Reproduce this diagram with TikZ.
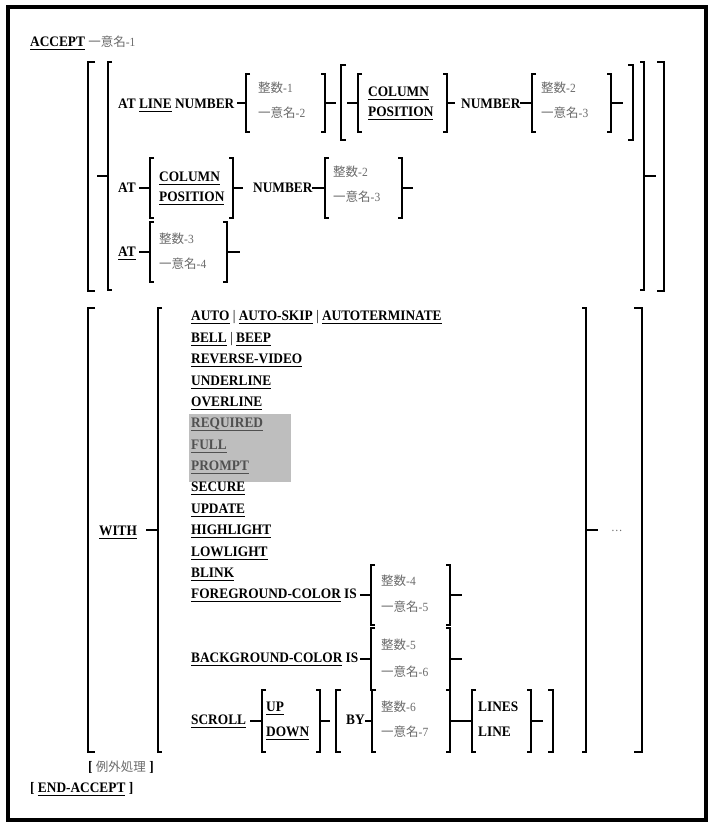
\documentclass[tikz,border=0pt]{standalone}
\usepackage{fontspec}
\setmainfont{Liberation Serif}[FakeStretch=0.92]
\newfontfamily\cjk{Noto Sans CJK JP}
\definecolor{lbl}{HTML}{6A6A6A}
\definecolor{boxg}{HTML}{BEBEBE}
\definecolor{boxt}{HTML}{505050}
\newcommand\ULn[1]{\setbox0\hbox{#1}\rlap{\rule[-3.6pt]{\wd0}{0.9pt}}\box0\relax}
\newcommand\gl[2]{{\color{lbl}\fontsize{12.5}{14}\selectfont\mdseries{\cjk #1}#2}}
\newcommand\bfont{\fontsize{14.5}{16}\selectfont\bfseries}
\newcommand\LBr[4]{\draw[br] ({#1+4},#2) -- (#1,#2) -- (#1,#3) -- ({#1+4},#3); \draw[br] (#1,{(#2+#3)/2}) -- ++(-#4,0);}
\newcommand\RBr[4]{\draw[br] ({#1-4},#2) -- (#1,#2) -- (#1,#3) -- ({#1-4},#3); \draw[br] (#1,{(#2+#3)/2}) -- ++(#4,0);}
\newcommand\LSq[4]{\draw[br] ({#1+#4},#2) -- (#1,#2) -- (#1,#3) -- ({#1+#4},#3);}
\newcommand\RSq[4]{\draw[br] ({#1-#4},#2) -- (#1,#2) -- (#1,#3) -- ({#1-#4},#3);}
\begin{document}
\begin{tikzpicture}[x=1pt,y=-1pt,
  br/.style={line width=1.5pt,black},
  txt/.style={anchor=base west,inner sep=0pt,font=\bfont},
  lab/.style={anchor=base west,inner sep=0pt},
  gtxt/.style={anchor=base west,inner sep=0pt,font=\bfont,text=boxt}]
\useasboundingbox (0,0) rectangle (718,831);
\draw[line width=4pt] (8,7) rectangle (706,820);
% header
\node[txt] (accept) at (30,46) {\ULn{ACCEPT} \gl{一意名}{-1}};
% ---------- group 1
\LSq{88}{62}{291}{7}
\LBr{108}{62}{290}{11}
\RBr{644}{62}{290}{12}
\RSq{664}{62}{291}{7}
% row 1
\node[txt] (r1) at (118,108) {AT \ULn{LINE} NUMBER};
\LBr{246}{74}{132}{9}
\node[lab] (i1) at (258,92.5) {\gl{整数}{-1}};
\node[lab] (d2) at (258,117.5) {\gl{一意名}{-2}};
\RBr{325}{74}{132}{11}
\LSq{341}{65}{140}{5}
\LBr{358}{74}{132}{11}
\node[txt] (c1) at (368,96) {\ULn{COLUMN}};
\node[txt] (p1) at (368,116) {\ULn{POSITION}};
\RBr{447}{74}{132}{8}
\node[txt] (n1) at (461,108) {NUMBER};
\LBr{532}{74}{132}{12}
\node[lab] (i2) at (541,92.5) {\gl{整数}{-2}};
\node[lab] (d3) at (541,117.5) {\gl{一意名}{-3}};
\RBr{611}{74}{132}{12}
\RSq{633}{65}{140}{5}
% row 2
\node[txt] (at2) at (118,192.5) {AT};
\LBr{150}{158}{218}{11}
\node[txt] (c2) at (159,181.5) {\ULn{COLUMN}};
\node[txt] (p2) at (159,201.5) {\ULn{POSITION}};
\RBr{233}{158}{218}{10}
\node[txt] (n2) at (253,192.5) {NUMBER};
\LBr{325}{158}{218}{13}
\node[lab] (i2b) at (333,176.5) {\gl{整数}{-2}};
\node[lab] (d3b) at (333,201.5) {\gl{一意名}{-3}};
\RBr{402}{158}{218}{11}
% row 3
\node[txt] (at3) at (118,256.5) {\ULn{AT}};
\LBr{150}{222}{282}{11}
\node[lab] (i3) at (159,243.5) {\gl{整数}{-3}};
\node[lab] (d4) at (159,268.5) {\gl{一意名}{-4}};
\RBr{227}{222}{282}{13}
% ---------- group 2
\LSq{88}{308}{752}{7}
\LBr{158}{308}{752}{12}
\RBr{586}{308}{752}{12}
\RSq{642}{308}{752}{8}
\node[txt] (with) at (99,535.5) {\ULn{WITH}};
\node[lab] (dots) at (611,531) {\gl{}{…}};
\fill[boxg] (189,414) rectangle (291,482);
\node[txt] (o1) at (191,320.5) {\ULn{AUTO} {\mdseries|} \ULn{AUTO-SKIP} {\mdseries|} \ULn{AUTOTERMINATE}};
\node[txt] (o2) at (191,342) {\ULn{BELL} {\mdseries|} \ULn{BEEP}};
\node[txt] (o3) at (191,363.5) {\ULn{REVERSE-VIDEO}};
\node[txt] (o4) at (191,385) {\ULn{UNDERLINE}};
\node[txt] (o5) at (191,406.5) {\ULn{OVERLINE}};
\node[gtxt] (o6) at (191,427.5) {\ULn{REQUIRED}};
\node[gtxt] (o7) at (191,449) {\ULn{FULL}};
\node[gtxt] (o8) at (191,470.5) {\ULn{PROMPT}};
\node[txt] (o9) at (191,491.5) {\ULn{SECURE}};
\node[txt] (o10) at (191,513) {\ULn{UPDATE}};
\node[txt] (o11) at (191,534.5) {\ULn{HIGHLIGHT}};
\node[txt] (o12) at (191,556) {\ULn{LOWLIGHT}};
\node[txt] (o13) at (191,577.5) {\ULn{BLINK}};
\node[txt] (o14) at (191,598.5) {\ULn{FOREGROUND-COLOR} IS};
\LBr{371}{565}{625}{11}
\node[lab] (i4) at (381,585) {\gl{整数}{-4}};
\node[lab] (d5) at (381,611.5) {\gl{一意名}{-5}};
\RBr{450}{565}{625}{12}
\node[txt] (o15) at (191,662.5) {\ULn{BACKGROUND-COLOR} IS};
\LBr{371}{628}{690}{11}
\node[lab] (i5) at (381,649.5) {\gl{整数}{-5}};
\node[lab] (d6) at (381,676.5) {\gl{一意名}{-6}};
\RBr{450}{628}{690}{12}
% scroll
\node[txt] (o16) at (191,724.5) {\ULn{SCROLL}};
\LBr{262}{690}{752}{12}
\node[txt] (up) at (266,711.5) {\ULn{UP}};
\node[txt] (down) at (266,736.5) {\ULn{DOWN}};
\RBr{320}{690}{752}{10}
\LSq{336}{690}{752}{5}
\node[txt] (by) at (346,724.5) {BY};
\LBr{372}{690}{752}{7}
\node[lab] (i6) at (381,711.5) {\gl{整数}{-6}};
\node[lab] (d7) at (381,736.5) {\gl{一意名}{-7}};
\RBr{450}{690}{752}{11}
\LBr{472}{690}{752}{11}
\node[txt] (lines) at (478,711.5) {LINES};
\node[txt] (line) at (478,736.5) {LINE};
\RBr{531}{690}{752}{12}
\RSq{553}{690}{752}{5}
% footer
\node[txt] (exc) at (88,771.5) {[ \gl{例外処理}{} ]};
\node[txt] (endacc) at (30,792.5) {[ \ULn{END-ACCEPT} ]};
\end{tikzpicture}
\end{document}
